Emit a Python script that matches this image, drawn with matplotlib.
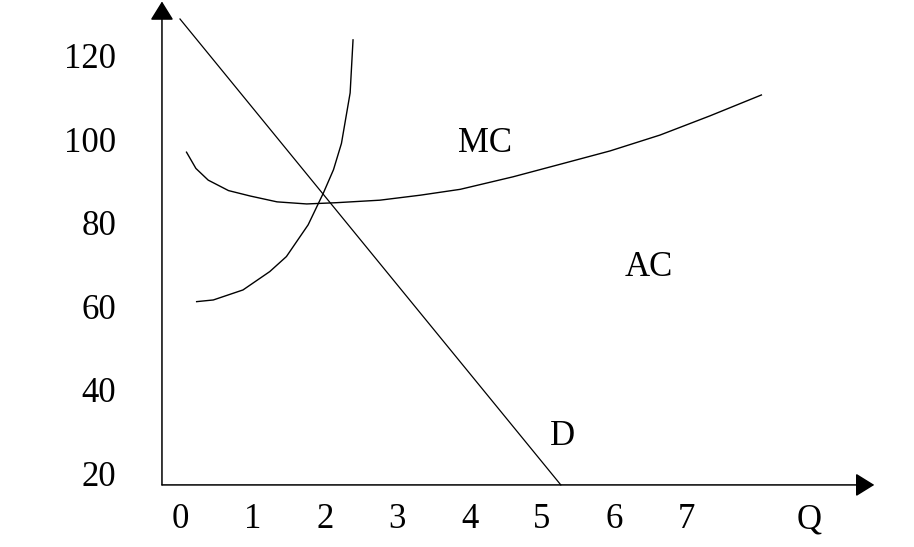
import matplotlib
matplotlib.use('Agg')
import matplotlib.pyplot as plt

# tick labels
q_ticks = [0, 1, 2, 3, 4, 5, 6, 7]
p_ticks = [20, 40, 60, 80, 100, 120]

# demand line endpoints (Q, P)
d_q = [0.0, 5.26]
d_p = [129.1, 17.5]

# steep curve
mc_q = [0.23, 0.46, 0.87, 1.24, 1.47, 1.77, 1.98, 2.12, 2.23, 2.35, 2.39]
mc_p = [61.4, 61.8, 64.2, 68.6, 72.2, 79.8, 87.4, 93.0, 99.3, 111.4, 124.1]

# U-shaped curve
ac_q = [0.09, 0.22, 0.39, 0.67, 0.97, 1.34, 1.75, 2.16, 2.76, 3.32, 3.87,
        4.60, 5.25, 5.94, 6.63, 7.32, 8.03]
ac_p = [97.2, 93.3, 90.5, 88.0, 86.7, 85.3, 84.8, 85.1, 85.7, 86.9, 88.3,
        91.3, 94.3, 97.5, 101.3, 105.9, 110.9]

fig = plt.figure(figsize=(9.14, 5.47), dpi=100)
ax = fig.add_axes([0, 0, 1, 1])
ax.set_xlim(-2.486, 10.138)
ax.set_ylim(2.63, 133.65)
ax.axis('off')

font = dict(family=['Liberation Serif', 'DejaVu Serif'], fontsize=25)
dy = -0.7  # small nudge so glyphs sit where the original ones do

# axes with arrow heads
x0, y0 = -0.249, 17.5
ax.annotate('', xy=(x0, 133.3), xytext=(x0, y0),
            arrowprops=dict(arrowstyle='-|>,head_length=0.58,head_width=0.36',
                            color='black', lw=1.1, mutation_scale=20,
                            shrinkA=0, shrinkB=0))
ax.annotate('', xy=(9.59, y0), xytext=(x0, y0),
            arrowprops=dict(arrowstyle='-|>,head_length=0.58,head_width=0.36',
                            color='black', lw=1.1, mutation_scale=20,
                            shrinkA=0, shrinkB=0))

ax.plot(d_q, d_p, color='black', lw=0.9)
ax.plot(mc_q, mc_p, color='black', lw=1.0)
ax.plot(ac_q, ac_p, color='black', lw=1.0)

for q in q_ticks:
    ax.text(q, 9.8 + dy, str(q), ha='center', va='center', **font)
ax.text(8.69, 9.8 + dy, 'Q', ha='center', va='center', **font)

for p in p_ticks:
    ax.text(-0.88, p + dy, str(p), ha='right', va='center', **font)

ax.text(4.21, 99.9 + dy, 'MC', ha='center', va='center', **font)
ax.text(6.48, 70.2 + dy, 'AC', ha='center', va='center', **font)
ax.text(5.28, 29.9 + dy, 'D', ha='center', va='center', **font)

plt.savefig('out.png', format='png', dpi=100)
